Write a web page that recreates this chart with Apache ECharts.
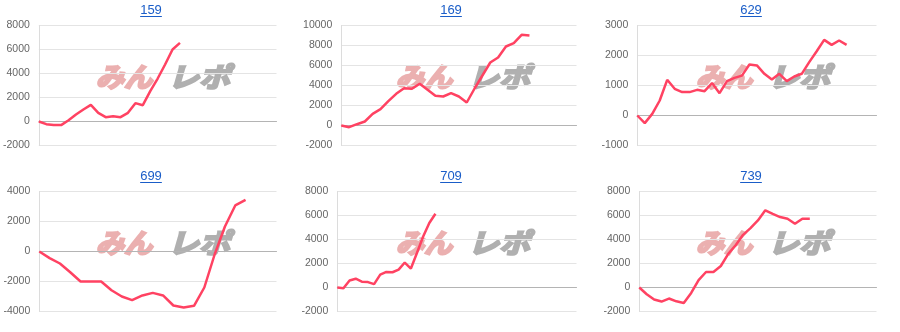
<!DOCTYPE html>
<html>
<head>
<meta charset="utf-8">
<script src="https://cdn.jsdelivr.net/npm/echarts@6/dist/echarts.min.js"></script>
<style>
html,body{margin:0;padding:0;background:#fff;}
#c{width:900px;height:332px;}
</style>
</head>
<body>
<div id="c"></div>
<script>
// Panel titles (machine numbers)
const titles = ['159', '169', '629', '699', '709', '739'];
// number of x slots per panel
const xCounts = [33, 31, 33, 24, 40, 33];
// y axis ranges
const yMins = [-2000, -2000, -1000, -4000, -2000, -2000];
const yMaxs = [8000, 10000, 3000, 4000, 8000, 8000];
const yIntervals = [2000, 2000, 1000, 2000, 2000, 2000];

// series values
const s159 = [0, -220, -300, -300, 110, 580, 1000, 1390, 720, 360, 440, 360, 720, 1530, 1360, 2530, 3580, 4750, 6000, 6550];
const s169 = [0, -170, 130, 400, 1170, 1630, 2430, 3170, 3730, 3670, 4170, 3570, 2970, 2900, 3230, 2900, 2300, 3700, 5000, 6300, 6800, 7900, 8230, 9070, 9000];
const s629 = [0, -255, 55, 500, 1190, 890, 780, 780, 855, 810, 1080, 745, 1145, 1255, 1330, 1700, 1670, 1390, 1200, 1390, 1145, 1300, 1390, 1780, 2140, 2520, 2355, 2500, 2355];
const s699 = [0, -440, -800, -1380, -2000, -2000, -2000, -2580, -3000, -3240, -2930, -2760, -2930, -3600, -3730, -3620, -2400, -200, 1670, 3070, 3440];
const s709 = [0, -60, 590, 730, 480, 450, 280, 1070, 1300, 1270, 1490, 2080, 1580, 2900, 4250, 5380, 6140];
const s739 = [0, -560, -1000, -1170, -920, -1150, -1290, -450, 620, 1290, 1290, 1790, 2800, 3520, 4390, 4950, 5590, 6430, 6130, 5870, 5730, 5310, 5730, 5730];
const seriesData = [s159, s169, s629, s699, s709, s739];

// layout
const panelW = 300, panelH = 166;
const gridLefts = [37, 41.3, 37.3, 39.3, 37.3, 39.3];
const lineColor = '#ff4262';
const titleColor = '#1a5dc8';

const chart = echarts.init(document.getElementById('c'));
const grids = [], xAxes = [], yAxes = [], series = [], graphics = [];

const mctx = document.createElement('canvas').getContext('2d');
const titleFont = '13px "Liberation Sans", Arial, sans-serif';
mctx.font = titleFont;
const wmFont = 'italic bold 27px "Noto Sans CJK JP", sans-serif';

for (let i = 0; i < 6; i++) {
  const col = i % 3, row = Math.floor(i / 3);
  const ox = col * panelW, oy = row * panelH;
  grids.push({
    left: ox + gridLefts[i],
    top: oy + 25.5,
    width: 276.5 - gridLefts[i],
    height: 120
  });
  const cats = Array.from({length: xCounts[i]}, (_, k) => String(k + 1));
  xAxes.push({
    type: 'category', gridIndex: i, data: cats, boundaryGap: false,
    axisLabel: {show: false}, axisTick: {show: false},
    axisLine: {show: true, onZero: true, lineStyle: {color: '#b4b4b4', width: 1}},
    splitLine: {show: false}
  });
  yAxes.push({
    type: 'value', gridIndex: i, min: yMins[i], max: yMaxs[i], interval: yIntervals[i],
    axisLine: {show: true, lineStyle: {color: '#dcdcdc'}},
    axisTick: {show: false},
    axisLabel: {color: '#666', fontSize: 10.5, margin: 9, fontFamily: '"Liberation Sans", Arial, sans-serif',
      formatter: v => String(v)},
    splitLine: {show: true, lineStyle: {color: '#e4e4e4', width: 1}}
  });
  series.push({
    type: 'line', xAxisIndex: i, yAxisIndex: i, data: seriesData[i],
    showSymbol: false, symbol: 'none', smooth: false, z: 3,
    lineStyle: {color: lineColor, width: 2.5},
    animation: false
  });
  // title
  const cx = ox + 151;
  const tw = mctx.measureText(titles[i]).width;
  graphics.push({
    type: 'text', x: cx, y: oy + 10, z: 5,
    style: {text: titles[i], font: titleFont, fill: titleColor, align: 'center', verticalAlign: 'middle'}
  });
  graphics.push({
    type: 'line', z: 5,
    shape: {x1: cx - tw / 2, y1: oy + 16.5, x2: cx + tw / 2, y2: oy + 16.5},
    style: {stroke: titleColor, lineWidth: 1}
  });
  // watermark
  graphics.push({
    type: 'text', x: ox + 124, y: oy + 77, z: -1, scaleX: 1.05,
    style: {text: 'みん', font: wmFont, fill: '#ebb0b0', stroke: '#ebb0b0', lineWidth: 2.2, align: 'center', verticalAlign: 'middle'}
  });
  graphics.push({
    type: 'text', x: ox + 199, y: oy + 77, z: -1, scaleX: 1.15,
    style: {text: 'レポ', font: wmFont, fill: '#b0b0b0', stroke: '#b0b0b0', lineWidth: 2.2, align: 'center', verticalAlign: 'middle'}
  });
}

chart.setOption({
  animation: false,
  grid: grids,
  xAxis: xAxes,
  yAxis: yAxes,
  series: series,
  graphic: {elements: graphics}
});
</script>
</body>
</html>
